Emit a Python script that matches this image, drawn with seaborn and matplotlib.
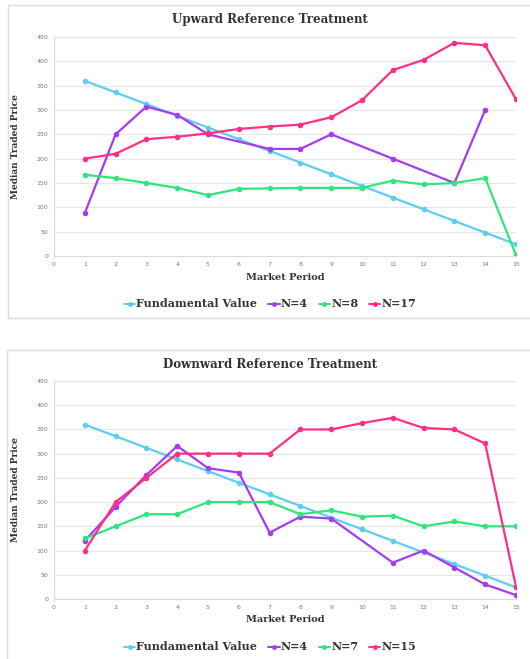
"""
Median traded price per market period, upward and downward reference treatments.
"""
import matplotlib.pyplot as plt
import matplotlib.patches as patches
import numpy as np
import pandas as pd
import seaborn as sns

periods = list(range(1, 16))
fundamental = [360, 336, 312, 288, 264, 240, 216, 192, 168, 144, 120, 96, 72, 48, 24]

# upward reference treatment
up_n4 = [88, 250, 307, 290, 250, np.nan, 220, 220, 250, np.nan, 200, np.nan, 150, 300, np.nan]
up_n8 = [167, 160, 150, 140, 125, 138, 139, 140, 140, 140, 155, 147, 150, 160, 2]
up_n17 = [200, 210, 240, 245, 252, 261, 266, 270, 285, 320, 382, 403, 438, 433, 322]

# downward reference treatment
down_n4 = [120, 190, 256, 316, 270, 261, 137, 170, 166, np.nan, 75, 100, 65, 30, 8]
down_n7 = [125, 150, 175, 175, 200, 200, 200, 175, 183, 170, 172, 150, 160, 150, 150]
down_n15 = [100, 200, 250, 300, 300, 300, 300, 350, 350, 363, 374, 353, 350, 321, 25]

up_labels = ["Fundamental Value", "N=4", "N=8", "N=17"]
down_labels = ["Fundamental Value", "N=4", "N=7", "N=15"]
colors = ["#5ccdf5", "#a63bf0", "#2ee67c", "#ff2f86"]

yticks = list(range(0, 451, 50))
xticks = list(range(0, 16))

SERIF = "DejaVu Serif"


def to_long(labels, series):
    frames = []
    for label, values in zip(labels, series):
        frames.append(pd.DataFrame({"period": periods, "price": values, "series": label}))
    return pd.concat(frames, ignore_index=True).dropna()


def draw_panel(fig, rect, title, labels, series, title_y, legend_y, xlabel_y):
    ax = fig.add_axes(rect)
    df = to_long(labels, series)
    sns.lineplot(
        data=df, x="period", y="price", hue="series", hue_order=labels,
        palette=colors, marker="o", markersize=4, markeredgewidth=0,
        linewidth=1.6, ax=ax, legend=False
    )
    ax.set_xlim(0, 15)
    ax.set_ylim(0, 450)
    ax.set_xticks(xticks)
    ax.set_yticks(yticks)
    ax.tick_params(axis="both", length=0, labelsize=4.5, colors="#777777", pad=4)
    ax.grid(axis="y", color="#e6e6e6", linewidth=0.8)
    ax.grid(axis="x", visible=False)
    ax.set_axisbelow(True)
    for side in ["top", "right"]:
        ax.spines[side].set_visible(False)
    for side in ["left", "bottom"]:
        ax.spines[side].set_color("#d9d9d9")
        ax.spines[side].set_linewidth(0.8)
    ax.set_xlabel("")
    ax.set_ylabel("Median Traded Price", fontsize=6.5, fontweight="bold",
                  family=SERIF, color="#333333", labelpad=12)
    fig.text(0.538, xlabel_y, "Market Period", ha="center", va="center",
             fontsize=7, fontweight="bold", family=SERIF, color="#333333")
    fig.text(0.51, title_y, title, ha="center", va="center", fontsize=8.6,
             fontweight="bold", family=SERIF, color="#333333")

    handles = [
        plt.Line2D([], [], color=c, marker="o", markersize=2.5, linewidth=1.4)
        for c in colors
    ]
    fig.legend(
        handles, labels, loc="center", bbox_to_anchor=(0.51, legend_y), ncol=4,
        frameon=False, handlelength=1.0, handletextpad=0.1, columnspacing=1.0,
        prop={"family": SERIF, "weight": "bold", "size": 8},
        labelcolor="#333333"
    )
    return ax


sns.set_theme(style="white")
fig = plt.figure(figsize=(5.30, 6.59), dpi=100)

# panel frames
fig.patches.append(patches.Rectangle(
    (8 / 530, 1 - 318 / 659), 1.2, 313 / 659, transform=fig.transFigure,
    fill=False, edgecolor="#dddddd", linewidth=1.0))
fig.patches.append(patches.Rectangle(
    (7 / 530, -0.1), 1.2, 0.1 + 1 - 350 / 659, transform=fig.transFigure,
    fill=False, edgecolor="#dddddd", linewidth=1.0))

draw_panel(
    fig, [54 / 530, 403 / 659, 462 / 530, 219 / 659],
    "Upward Reference Treatment", up_labels,
    [fundamental, up_n4, up_n8, up_n17],
    title_y=1 - 20 / 659, legend_y=1 - 304 / 659, xlabel_y=1 - 278 / 659
)
draw_panel(
    fig, [54 / 530, 60 / 659, 462 / 530, 218 / 659],
    "Downward Reference Treatment", down_labels,
    [fundamental, down_n4, down_n7, down_n15],
    title_y=1 - 364 / 659, legend_y=1 - 647 / 659, xlabel_y=1 - 620 / 659
)

fig.savefig("out.png", dpi=100)
